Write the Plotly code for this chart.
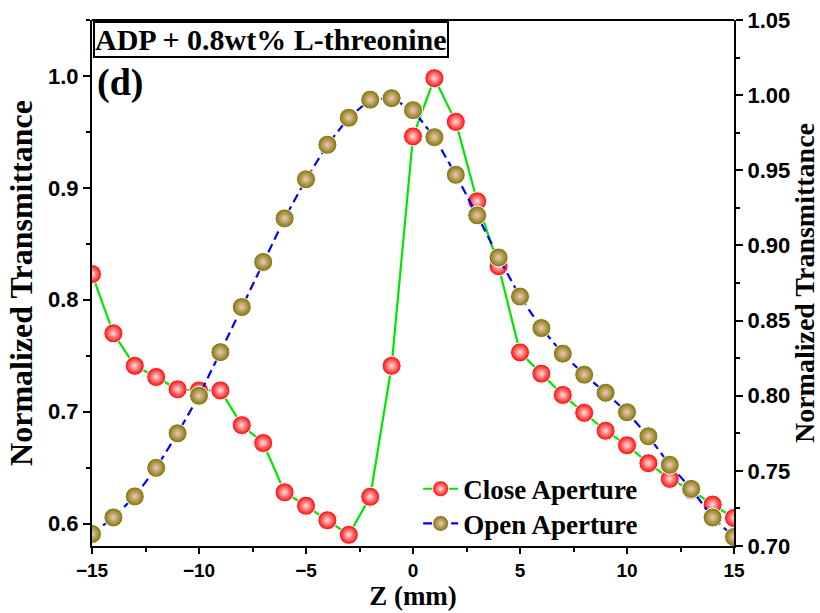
import plotly.graph_objects as go

z = list(range(-15, 16))
close_ap = [0.823, 0.770, 0.741, 0.731, 0.720, 0.719, 0.719, 0.688, 0.672, 0.628,
            0.616, 0.603, 0.590, 0.624, 0.741, 0.946, 0.998, 0.959, 0.888, 0.830,
            0.753, 0.734, 0.715, 0.699, 0.683, 0.670, 0.654, 0.640, 0.630, 0.617, 0.605]
open_ap = [0.708, 0.719, 0.733, 0.752, 0.775, 0.800, 0.829, 0.859, 0.889, 0.918,
           0.944, 0.967, 0.985, 0.997, 0.998, 0.990, 0.972, 0.947, 0.920, 0.892,
           0.866, 0.845, 0.828, 0.814, 0.802, 0.789, 0.773, 0.754, 0.738, 0.719, 0.706]

serif = "Liberation Serif"
sans = "Liberation Sans"

fig = go.Figure()
fig.add_trace(go.Scatter(
    x=z, y=close_ap, name="Close Aperture", mode="lines+markers",
    line=dict(color="#00e600", width=2.2),
    marker=dict(size=19, color="#ff0000", line=dict(color="white", width=1),
                gradient=dict(type="radial", color="#ffe0e0")),
    yaxis="y", legend="legend"))
fig.add_trace(go.Scatter(
    x=z, y=open_ap, name="Open Aperture", mode="lines+markers",
    line=dict(color="#0000ff", width=2.2, dash="9px,5px"),
    marker=dict(size=19, color="#7a7300", line=dict(color="white", width=1),
                gradient=dict(type="radial", color="#f0c8b8")),
    yaxis="y2", legend="legend2"))

def axcommon(size, ticklen=7):
    return dict(showline=True, linecolor="black", linewidth=2, ticks="outside",
                ticklen=ticklen, tickwidth=1.5, tickcolor="black", showgrid=False,
                zeroline=False, automargin=False,
                tickfont=dict(family=sans, size=size, color="black", weight="bold"))

legfont = dict(family=serif, size=27, color="black", weight="bold")

fig.update_layout(
    width=820, height=613,
    margin=dict(l=92, r=86, t=20, b=67),
    plot_bgcolor="white", paper_bgcolor="white",
    showlegend=True,
    legend=dict(x=0.508, y=0.108, xanchor="left", yanchor="middle",
                bgcolor="rgba(255,255,255,0)", font=legfont, itemwidth=35),
    legend2=dict(x=0.508, y=0.042, xanchor="left", yanchor="middle",
                 bgcolor="rgba(255,255,255,0)", font=legfont, itemwidth=35),
    xaxis=dict(range=[-15, 15], dtick=5, tick0=-15,
               minor=dict(ticks="outside", ticklen=4, dtick=2.5, tickcolor="black"),
               title=dict(text="Z (mm)", standoff=0,
                          font=dict(family=serif, size=27, color="black", weight="bold")),
               **axcommon(19, 6)),
    yaxis=dict(range=[0.58, 1.05], dtick=0.1, tick0=0.6, tickformat=".1f",
               minor=dict(ticks="outside", ticklen=4, dtick=0.05, tickcolor="black"),
               title=dict(text="Normalized Transmittance", standoff=6,
                          font=dict(family=serif, size=32, color="black", weight="bold")),
               **axcommon(22)),
    yaxis2=dict(range=[0.70, 1.05], dtick=0.05, tick0=0.7, tickformat=".2f",
                overlaying="y", side="right", anchor="x",
                minor=dict(ticks="outside", ticklen=4, dtick=0.025, tickcolor="black"),
                title=dict(text="Normalized Transmittance", standoff=2,
                           font=dict(family=serif, size=28, color="black", weight="bold")),
                **axcommon(22)),
    shapes=[dict(type="line", xref="paper", yref="paper", x0=0, x1=1, y0=1, y1=1,
                 line=dict(color="black", width=2))],
    annotations=[
        dict(text="ADP + 0.8wt% L-threonine", xref="paper", yref="paper",
             x=0.002, y=0.998, xanchor="left", yanchor="top", showarrow=False,
             bordercolor="black", borderwidth=2, borderpad=0, bgcolor="white",
             font=dict(family=serif, size=30, color="black", weight="bold")),
        dict(text="(d)", xref="paper", yref="paper", x=0.004, y=0.925,
             xanchor="left", yanchor="top", showarrow=False,
             font=dict(family=serif, size=38, color="black", weight="bold")),
    ],
)

fig.write_html("out.html")
